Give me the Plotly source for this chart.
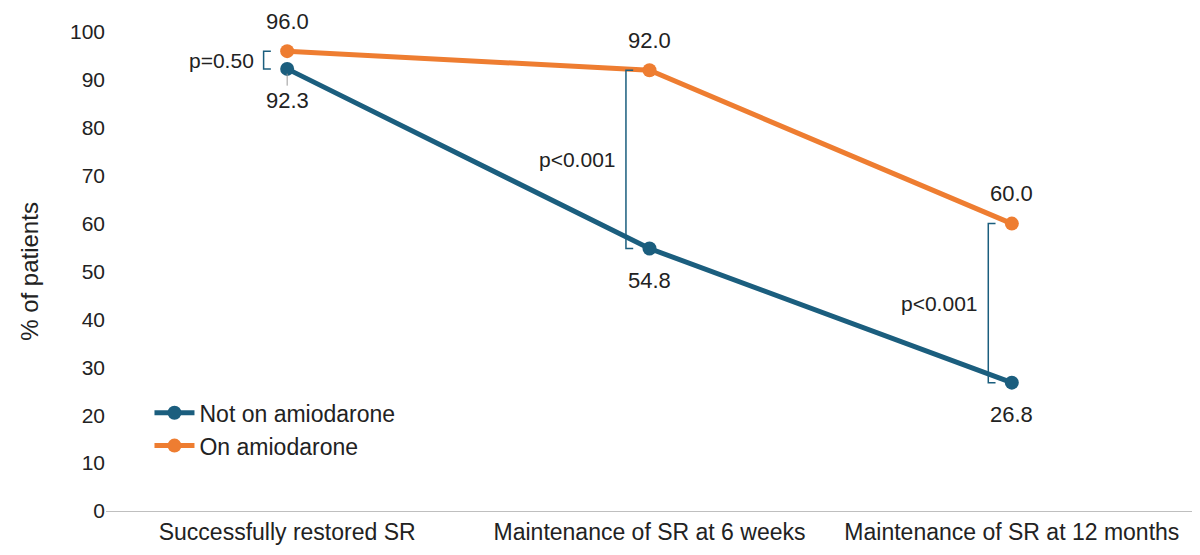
import plotly.graph_objects as go

categories = ["Successfully restored SR", "Maintenance of SR at 6 weeks", "Maintenance of SR at 12 months"]
not_amio = [92.3, 54.8, 26.8]
on_amio = [96.0, 92.0, 60.0]
p_labels = ["p=0.50", "p<0.001", "p<0.001"]

BLUE = "#1B5E7E"
ORANGE = "#EE7D31"
xs = list(range(len(categories)))

fig = go.Figure()
fig.add_trace(go.Scatter(x=xs, y=not_amio, mode="lines+markers", name="Not on amiodarone",
                         line=dict(color=BLUE, width=5), marker=dict(size=14, color=BLUE)))
fig.add_trace(go.Scatter(x=xs, y=on_amio, mode="lines+markers", name="On amiodarone",
                         line=dict(color=ORANGE, width=5), marker=dict(size=14, color=ORANGE)))

# value labels
for i in xs:
    fig.add_annotation(x=i, y=on_amio[i], text=f"{on_amio[i]:.1f}", showarrow=False,
                       yshift=30, font=dict(size=22, color="#222"))
    fig.add_annotation(x=i, y=not_amio[i], text=f"{not_amio[i]:.1f}", showarrow=False,
                       yshift=-32, font=dict(size=22, color="#222"))

# significance brackets
for i in xs:
    bx = i - 0.065
    lo, hi = not_amio[i], on_amio[i]
    fig.add_shape(type="path", xref="x", yref="y",
                  path=f"M {bx+0.02},{hi} L {bx},{hi} L {bx},{lo} L {bx+0.02},{lo}",
                  line=dict(color=BLUE, width=1.5))
    fig.add_annotation(x=bx, y=(lo + hi) / 2, text=p_labels[i], showarrow=False,
                       xanchor="right", xshift=-8, font=dict(size=21, color="#222"))

# leader line for first lower label
fig.add_shape(type="line", xref="x", yref="y", x0=0, x1=0, y0=not_amio[0] - 1, y1=not_amio[0] - 3.5,
              line=dict(color="#999", width=1))

fig.update_layout(
    width=1200, height=555,
    margin=dict(l=98, r=15, t=24, b=52),
    plot_bgcolor="white", paper_bgcolor="white",
    font=dict(family="Liberation Sans, Arial", size=20, color="#222"),
    legend=dict(x=0.04, y=0.25, xanchor="left", yanchor="top", bgcolor="rgba(0,0,0,0)",
                font=dict(size=23), itemwidth=40, tracegroupgap=12),
    xaxis=dict(range=[-0.5, 2.5], tickvals=xs, ticktext=categories, showgrid=False,
               showline=True, linecolor="#bfbfbf", ticks="", tickfont=dict(size=23)),
    yaxis=dict(range=[0, 100], dtick=10, showgrid=False, zeroline=False, showline=False,
               ticks="", tickfont=dict(size=21),
               title=dict(text="% of patients", font=dict(size=24), standoff=24)),
)

fig.write_html("out.html")
